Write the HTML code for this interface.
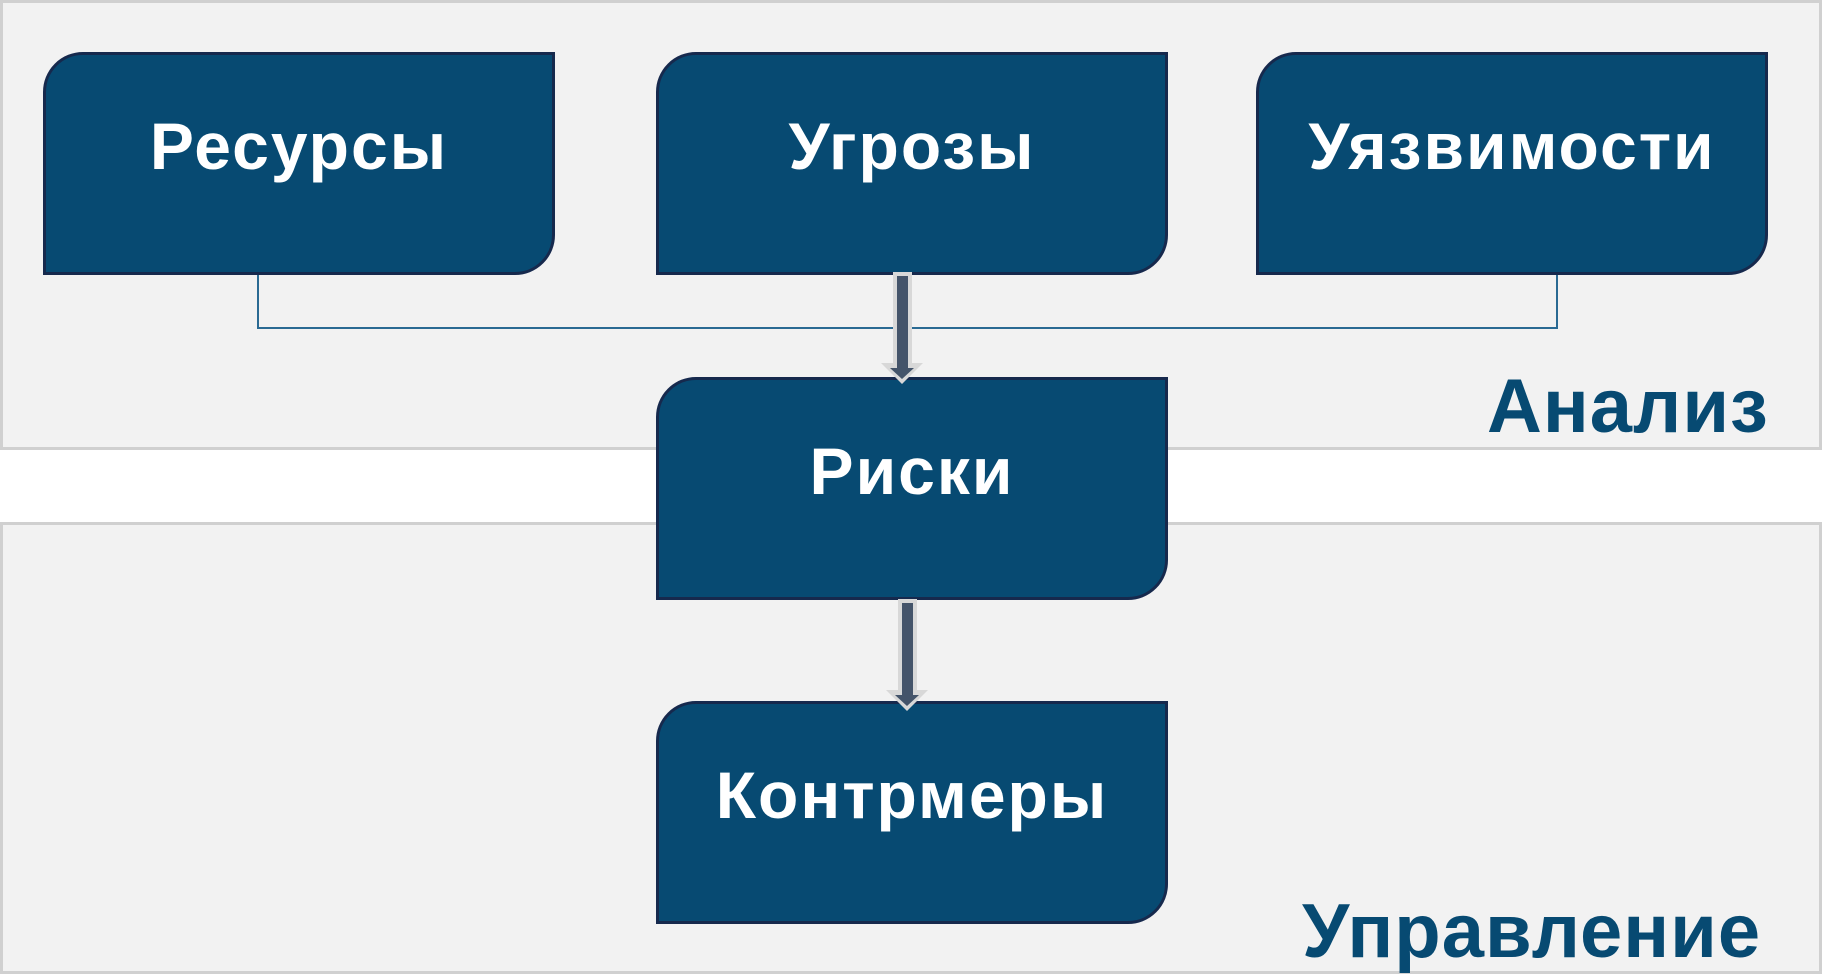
<!DOCTYPE html>
<html><head><meta charset="utf-8"><style>
html,body{margin:0;padding:0;background:#fff;width:1822px;height:974px;overflow:hidden;position:relative;font-family:"Liberation Sans",sans-serif}
.panel{position:absolute;background:#f2f2f2;border:3px solid #d0d0d0;box-sizing:border-box}
.box{position:absolute;width:512px;height:223px;background:#074a72;border:3px solid #16294d;box-sizing:border-box;border-radius:40px 0 40px 0;color:#fff;font-weight:bold;font-size:66px;display:flex;align-items:center;justify-content:center;letter-spacing:2px;padding-bottom:36px}
.lbl{position:absolute;color:#074a72;font-weight:bold;font-size:76px;letter-spacing:1px;line-height:1}
</style></head><body>
<div class="panel" style="left:0;top:0;width:1822px;height:450px"></div>
<div class="panel" style="left:0;top:522px;width:1822px;height:452px"></div>
<svg style="position:absolute;left:0;top:0" width="1822" height="974">
<polyline points="258,275 258,328 1557,328 1557,275" fill="none" stroke="#2a6a93" stroke-width="2"/>
</svg>
<div class="box" style="left:43px;top:52px">Ресурсы</div>
<div class="box" style="left:656px;top:52px">Угрозы</div>
<div class="box" style="left:1256px;top:52px">Уязвимости</div>
<div class="box" style="left:656px;top:377px">Риски</div>
<div class="box" style="left:656px;top:701px">Контрмеры</div>
<svg style="position:absolute;left:0;top:0" width="1822" height="974">
<polygon points="893,272 912,272 912,363 923,363 902,384 881,363 893,363" fill="#d8d8d8"/>
<polygon points="897,276 908,276 908,368 914,368 902,379 890,368 897,368" fill="#44546a"/>
<polygon points="898,599 917,599 917,690 928,690 907,711 886,690 898,690" fill="#d8d8d8"/>
<polygon points="902,603 913,603 913,695 919,695 907,706 895,695 902,695" fill="#44546a"/>
</svg>
<div class="lbl" style="left:1487px;top:369px">Анализ</div>
<div class="lbl" style="left:1302px;top:894px">Управление</div>
</body></html>
